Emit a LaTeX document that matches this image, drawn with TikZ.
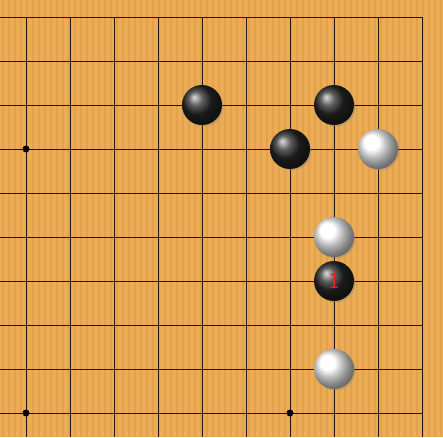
\documentclass[tikz,border=0pt]{standalone}
\usepackage{tikz}
\usetikzlibrary{shadows}

\definecolor{woodbg}{RGB}{236,172,86}
\definecolor{woodline}{RGB}{226,162,76}
\definecolor{gridline}{RGB}{40,20,10}
\definecolor{numred}{RGB}{235,35,35}

\begin{document}
\begin{tikzpicture}[x=1pt, y=-1pt,
  every stone/.style={circle, minimum size=40pt, inner sep=0pt,
    drop shadow={shadow xshift=1.5pt, shadow yshift=-1.5pt, opacity=0.35}},
  blackstone/.style={every stone, shading=ball, ball color=black!85},
  whitestone/.style={every stone, shading=ball, ball color=white},
  movenum/.style={text=numred, font=\sffamily\fontsize{23}{23}\selectfont, inner sep=0pt},
  hoshi/.style={circle, fill=black, minimum size=7pt, inner sep=0pt}]
  \useasboundingbox (0,0) rectangle (443,437);
  \fill[woodbg] (0,0) rectangle (443,437);
  % wood grain
  \foreach \x in {3,9,...,441}
    \draw[woodline, line width=1.2pt] (\x,0) -- (\x,437);
  % grid
  \foreach \x in {26,70,...,422}
    \draw[gridline, line width=1pt] (\x,17) -- (\x,437);
  \foreach \y in {17,61,...,413}
    \draw[gridline, line width=1pt] (0,\y) -- (422,\y);
  % star points
  \node[hoshi] (s1) at (26,149)  {};
  \node[hoshi] (s2) at (26,413)  {};
  \node[hoshi] (s3) at (290,413) {};
  % stones
  \node[blackstone] (b1) at (202,105) {};
  \node[blackstone] (b2) at (334,105) {};
  \node[blackstone] (b3) at (290,149) {};
  \node[blackstone] (b4) at (334,281) {};
  \node[movenum]    (n1) at (b4)      {1};
  \node[whitestone] (w1) at (378,149) {};
  \node[whitestone] (w2) at (334,237) {};
  \node[whitestone] (w3) at (334,369) {};
\end{tikzpicture}
\end{document}
